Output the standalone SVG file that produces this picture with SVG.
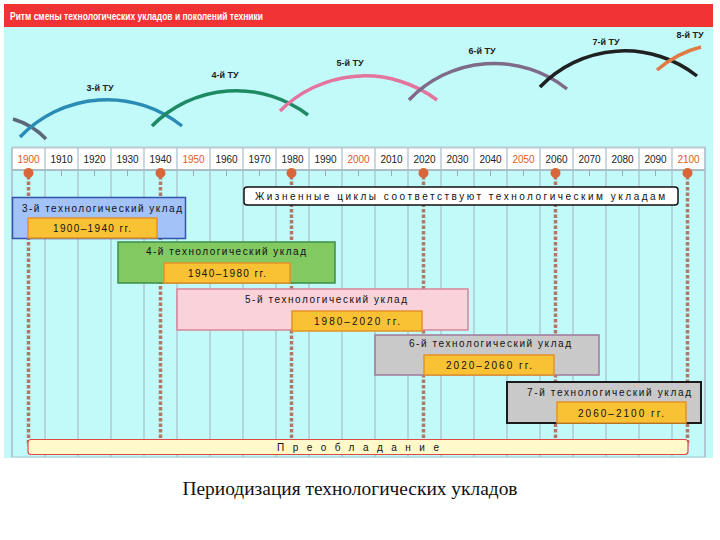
<svg xmlns="http://www.w3.org/2000/svg" width="720" height="540" viewBox="0 0 720 540">
<style>
.yr{font-family:"Liberation Sans",Arial,sans-serif;font-size:10px;fill:#222;text-anchor:middle}
.yh{fill:#e05a28}
.lbl{font-family:"Liberation Sans",Arial,sans-serif;font-size:10px;fill:#111;text-anchor:middle}
.tu{font-family:"Liberation Sans",Arial,sans-serif;font-size:9px;font-weight:bold;fill:#222;text-anchor:middle}
.arc{fill:none;stroke-width:3.5;stroke-linecap:butt}
.vl{stroke:#a9bccb;stroke-width:1.2}
.tk{stroke:#9aaab8;stroke-width:1}
.dash{stroke:#ad7a68;stroke-width:3.5;stroke-dasharray:3.5,2}
.dot{fill:#d9653a}
.inner{fill:#f9c234;stroke:#e3922a;stroke-width:1.5}
</style>
<rect x="0" y="0" width="720" height="540" fill="#ffffff"/>
<rect x="4" y="27" width="709" height="431" fill="#c2fafa"/>
<g id="header">
<rect x="4" y="4" width="709" height="23" fill="#f23333"/>
<text x="10" y="20" font-family="Liberation Sans,Arial,sans-serif" font-size="10" font-weight="bold" fill="#ffffff" textLength="253" lengthAdjust="spacingAndGlyphs">Ритм смены технологических укладов и поколений техники</text>
</g>
<g id="grid">
<rect x="12" y="147" width="693" height="310" fill="none" stroke="#b3c3cc" stroke-width="1"/>
<rect x="12" y="148" width="693" height="22" fill="#ffffff" stroke="#b3c3cc" stroke-width="1"/>
<line x1="12" y1="170" x2="705" y2="170" stroke="#9fb0bc" stroke-width="1.5"/>
<g class="vl">
<line x1="12" y1="148" x2="12" y2="457"/><line x1="45" y1="148" x2="45" y2="457"/><line x1="78" y1="148" x2="78" y2="457"/><line x1="111" y1="148" x2="111" y2="457"/><line x1="144" y1="148" x2="144" y2="457"/><line x1="177" y1="148" x2="177" y2="457"/><line x1="210" y1="148" x2="210" y2="457"/><line x1="243" y1="148" x2="243" y2="457"/><line x1="276" y1="148" x2="276" y2="457"/><line x1="309" y1="148" x2="309" y2="457"/><line x1="342" y1="148" x2="342" y2="457"/><line x1="375" y1="148" x2="375" y2="457"/><line x1="408" y1="148" x2="408" y2="457"/><line x1="441" y1="148" x2="441" y2="457"/><line x1="474" y1="148" x2="474" y2="457"/><line x1="507" y1="148" x2="507" y2="457"/><line x1="540" y1="148" x2="540" y2="457"/><line x1="573" y1="148" x2="573" y2="457"/><line x1="606" y1="148" x2="606" y2="457"/><line x1="639" y1="148" x2="639" y2="457"/><line x1="672" y1="148" x2="672" y2="457"/><line x1="705" y1="148" x2="705" y2="457"/>
</g>
<g class="tk">
<line x1="61.5" y1="170" x2="61.5" y2="176"/><line x1="94.5" y1="170" x2="94.5" y2="176"/><line x1="127.5" y1="170" x2="127.5" y2="176"/><line x1="193.5" y1="170" x2="193.5" y2="176"/><line x1="226.5" y1="170" x2="226.5" y2="176"/><line x1="259.5" y1="170" x2="259.5" y2="176"/><line x1="325.5" y1="170" x2="325.5" y2="176"/><line x1="358.5" y1="170" x2="358.5" y2="176"/><line x1="391.5" y1="170" x2="391.5" y2="176"/><line x1="457.5" y1="170" x2="457.5" y2="176"/><line x1="490.5" y1="170" x2="490.5" y2="176"/><line x1="523.5" y1="170" x2="523.5" y2="176"/><line x1="589.5" y1="170" x2="589.5" y2="176"/><line x1="622.5" y1="170" x2="622.5" y2="176"/><line x1="655.5" y1="170" x2="655.5" y2="176"/>
</g>
<text class="yr yh" x="28.5" y="163">1900</text><text class="yr" x="61.5" y="163">1910</text><text class="yr" x="94.5" y="163">1920</text><text class="yr" x="127.5" y="163">1930</text><text class="yr" x="160.5" y="163">1940</text><text class="yr yh" x="193.5" y="163">1950</text><text class="yr" x="226.5" y="163">1960</text><text class="yr" x="259.5" y="163">1970</text><text class="yr" x="292.5" y="163">1980</text><text class="yr" x="325.5" y="163">1990</text><text class="yr yh" x="358.5" y="163">2000</text><text class="yr" x="391.5" y="163">2010</text><text class="yr" x="424.5" y="163">2020</text><text class="yr" x="457.5" y="163">2030</text><text class="yr" x="490.5" y="163">2040</text><text class="yr yh" x="523.5" y="163">2050</text><text class="yr" x="556.5" y="163">2060</text><text class="yr" x="589.5" y="163">2070</text><text class="yr" x="622.5" y="163">2080</text><text class="yr" x="655.5" y="163">2090</text><text class="yr yh" x="688.5" y="163">2100</text>
</g>
<g id="connectors">
<line class="dash" x1="28.5" y1="176" x2="28.5" y2="446"/>
<line class="dash" x1="160.5" y1="176" x2="160.5" y2="446"/>
<line class="dash" x1="291.5" y1="176" x2="291.5" y2="446"/>
<line class="dash" x1="423.5" y1="176" x2="423.5" y2="446"/>
<line class="dash" x1="555.5" y1="176" x2="555.5" y2="446"/>
<line class="dash" x1="687.5" y1="176" x2="687.5" y2="446"/>
<circle class="dot" cx="28.5" cy="173" r="5"/>
<circle class="dot" cx="160.5" cy="173" r="5"/>
<circle class="dot" cx="291.5" cy="173" r="5"/>
<circle class="dot" cx="423.5" cy="173" r="5"/>
<circle class="dot" cx="555.5" cy="173" r="5"/>
<circle class="dot" cx="687.5" cy="173" r="5"/>
</g>
<g id="arcs">
<path class="arc" stroke="#5b6679" d="M13,119 Q33,125 46,139"/>
<path class="arc" stroke="#2a8bb5" d="M20,137 A120,120 0 0 1 182,126"/>
<text class="tu" x="100" y="91">3-й ТУ</text>
<path class="arc" stroke="#1e8a64" d="M152,126 A118,118 0 0 1 308,115"/>
<text class="tu" x="225" y="78">4-й ТУ</text>
<path class="arc" stroke="#e4749e" d="M280,111 A120,120 0 0 1 437,100"/>
<text class="tu" x="350" y="66">5-й ТУ</text>
<path class="arc" stroke="#7f6a88" d="M409,100 A117,117 0 0 1 567,89"/>
<text class="tu" x="482" y="54">6-й ТУ</text>
<path class="arc" stroke="#1e2022" d="M540,87 A117,117 0 0 1 697,76"/>
<text class="tu" x="606" y="45">7-й ТУ</text>
<path class="arc" stroke="#e07a45" d="M657,70 Q677,53 701,47"/>
<text class="tu" x="690" y="38">8-й ТУ</text>
</g>
<g id="life-cycles">
<rect x="244" y="187" width="434" height="18" rx="3" fill="#ffffff" stroke="#111" stroke-width="1.5"/>
<text class="lbl" x="460" y="200" textLength="410" lengthAdjust="spacing">Жизненные циклы соответствуют технологическим укладам</text>
</g>
<g id="tu3">
<rect x="12.5" y="197.5" width="173" height="41" fill="#a2c2f8" stroke="#3354a8" stroke-width="1.5"/>
<text class="lbl" x="102" y="212" textLength="160" lengthAdjust="spacing">3-й технологический уклад</text>
<rect class="inner" x="28" y="218" width="129" height="20"/>
<text class="lbl" x="92" y="232" textLength="78" lengthAdjust="spacing">1900–1940 гг.</text>
</g>
<g id="tu4">
<rect x="118" y="242" width="217" height="41" fill="#82c962" stroke="#3c8e48" stroke-width="1.5"/>
<text class="lbl" x="226" y="255" textLength="160" lengthAdjust="spacing">4-й технологический уклад</text>
<rect class="inner" x="164" y="263" width="126" height="20"/>
<text class="lbl" x="227" y="277" textLength="78" lengthAdjust="spacing">1940–1980 гг.</text>
</g>
<g id="tu5">
<rect x="177" y="289" width="291" height="41" fill="#fad2da" stroke="#d9859a" stroke-width="1.5"/>
<text class="lbl" x="326" y="303" textLength="162" lengthAdjust="spacing">5-й технологический уклад</text>
<rect class="inner" x="292" y="311" width="130" height="20"/>
<text class="lbl" x="357" y="325" textLength="86" lengthAdjust="spacing">1980–2020 гг.</text>
</g>
<g id="tu6">
<rect x="375" y="335" width="224" height="40" fill="#c9c9c9" stroke="#a07a98" stroke-width="1.5"/>
<text class="lbl" x="490" y="347" textLength="162" lengthAdjust="spacing">6-й технологический уклад</text>
<rect class="inner" x="424" y="355" width="130" height="20"/>
<text class="lbl" x="489" y="369" textLength="86" lengthAdjust="spacing">2020–2060 гг.</text>
</g>
<g id="tu7">
<rect x="507" y="382" width="194" height="41" fill="#c9c9c9" stroke="#1a1a1a" stroke-width="2"/>
<text class="lbl" x="609" y="396" textLength="164" lengthAdjust="spacing">7-й технологический уклад</text>
<rect class="inner" x="557" y="402" width="129" height="21"/>
<text class="lbl" x="621" y="417" textLength="86" lengthAdjust="spacing">2060–2100 гг.</text>
</g>
<g id="dominance">
<rect x="28" y="439.5" width="660" height="15" rx="3" fill="#fff9cc" stroke="#e04848" stroke-width="1.2"/>
<text class="lbl" x="358" y="451" textLength="162" lengthAdjust="spacing">Преобладание</text>
</g>
<text x="350" y="495" font-family="Liberation Serif,Times New Roman,serif" font-size="18" fill="#111" text-anchor="middle" textLength="335" lengthAdjust="spacingAndGlyphs">Периодизация технологических укладов</text>
</svg>
